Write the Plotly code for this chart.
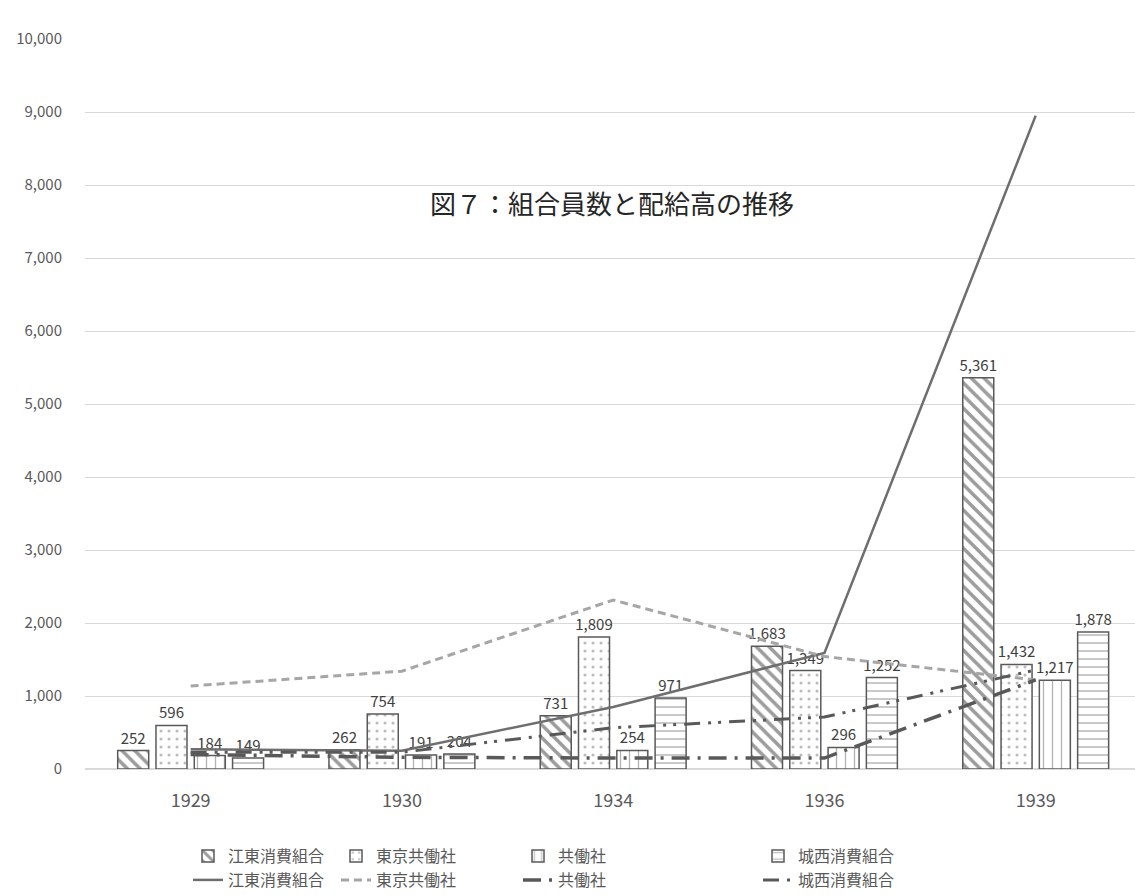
import plotly.graph_objects as go

years = ["1929", "1930", "1934", "1936", "1939"]
series_names = ["江東消費組合", "東京共働社", "共働社", "城西消費組合"]

# bar values (組合員数)
bar_koto = [252, 262, 731, 1683, 5361]
bar_tokyo = [596, 754, 1809, 1349, 1432]
bar_kyodo = [184, 191, 254, 296, 1217]
bar_josai = [149, 204, 971, 1252, 1878]

# line values (配給高)
line_koto = [270, 250, 850, 1590, 8950]
line_tokyo = [1137, 1340, 2315, 1540, 1220]
line_kyodo = [200, 160, 150, 150, 1220]
line_josai = [230, 230, 565, 712, 1356]

FONT = "Noto Sans CJK JP, Noto Sans, sans-serif"
PLOT_L, PLOT_R, PLOT_T, PLOT_B = 85, 1135, 39, 769
W, H = 1135, 895


def px_to_paper_x(px):
    return (px - PLOT_L) / (PLOT_R - PLOT_L)


def px_to_paper_y(py):
    return (PLOT_B - py) / (PLOT_B - PLOT_T)


fig = go.Figure()

bar_styles = [
    dict(shape="\\", size=9, solidity=0.4, fgcolor="#3a3a3a"),
    dict(shape=".", size=8, solidity=0.12, fgcolor="#7a7a7a"),
    dict(shape="|", size=9, solidity=0.15, fgcolor="#6a6a6a"),
    dict(shape="-", size=8, solidity=0.18, fgcolor="#6a6a6a"),
]
bar_data = [bar_koto, bar_tokyo, bar_kyodo, bar_josai]
legend_text_x = [230, 378, 560, 800]

for i, (name, vals, pat) in enumerate(zip(series_names, bar_data, bar_styles)):
    fig.add_trace(go.Bar(
        x=years, y=vals, name=name,
        marker=dict(color="white", line=dict(color="#595959", width=1.5),
                    pattern=dict(bgcolor="white", fillmode="overlay", **pat)),
        texttemplate="%{y:,}", textposition="outside", constraintext="none",
        textfont=dict(family=FONT, size=15, color="#404040"),
        cliponaxis=False,
        legend="legend" if i == 0 else f"legend{i + 1}",
    ))

line_data = [line_koto, line_tokyo, line_kyodo, line_josai]
line_styles = [
    dict(color="#6e6e6e", width=2.5, dash="solid"),
    dict(color="#a6a6a6", width=3, dash="8px,5px"),
    dict(color="#595959", width=3.5, dash="18px,8px,3px,8px"),
    dict(color="#595959", width=3, dash="16px,8px,3px,7px,3px,8px"),
]
for i, (name, vals, ls) in enumerate(zip(series_names, line_data, line_styles)):
    fig.add_trace(go.Scatter(
        x=years, y=vals, name=name, mode="lines", line=ls,
        legend=f"legend{i + 5}",
    ))

layout_legends = {}
for row, ypx in enumerate([856, 880]):
    for col, tx in enumerate(legend_text_x):
        idx = row * 4 + col
        key = "legend" if idx == 0 else f"legend{idx + 1}"
        layout_legends[key] = dict(
            x=px_to_paper_x(tx - 42), y=1 - ypx / H, yref="container",
            xanchor="left", yanchor="middle", orientation="h",
            bgcolor="rgba(0,0,0,0)", borderwidth=0,
            font=dict(family=FONT, size=16, color="#595959"),
        )

fig.update_layout(
    width=W, height=H,
    margin=dict(l=PLOT_L, r=W - PLOT_R, t=PLOT_T, b=H - PLOT_B),
    paper_bgcolor="white", plot_bgcolor="white",
    barmode="group", bargap=0.275, bargroupgap=0.19,
    showlegend=True,
    font=dict(family=FONT, color="#595959"),
    xaxis=dict(type="category", range=[-0.5, 4.47], showgrid=False, automargin=False,
               showline=False, ticks="", tickfont=dict(family=FONT, size=18, color="#595959"),
               ticklabelstandoff=19),
    yaxis=dict(range=[0, 10000], dtick=1000, tickformat=",", showgrid=True, automargin=False,
               gridcolor="#d9d9d9", gridwidth=1, zeroline=True, zerolinecolor="#d9d9d9",
               zerolinewidth=1.5, showline=False, ticks="",
               tickfont=dict(family=FONT, size=15, color="#595959"),
               ticklabelstandoff=22),
    annotations=[dict(
        text="図７：組合員数と配給高の推移", x=px_to_paper_x(612), y=px_to_paper_y(202),
        xref="paper", yref="paper", showarrow=False, xanchor="center", yanchor="middle",
        font=dict(family=FONT, size=26, color="#262626"),
    )],
    **layout_legends,
)

fig.write_html("out.html")
